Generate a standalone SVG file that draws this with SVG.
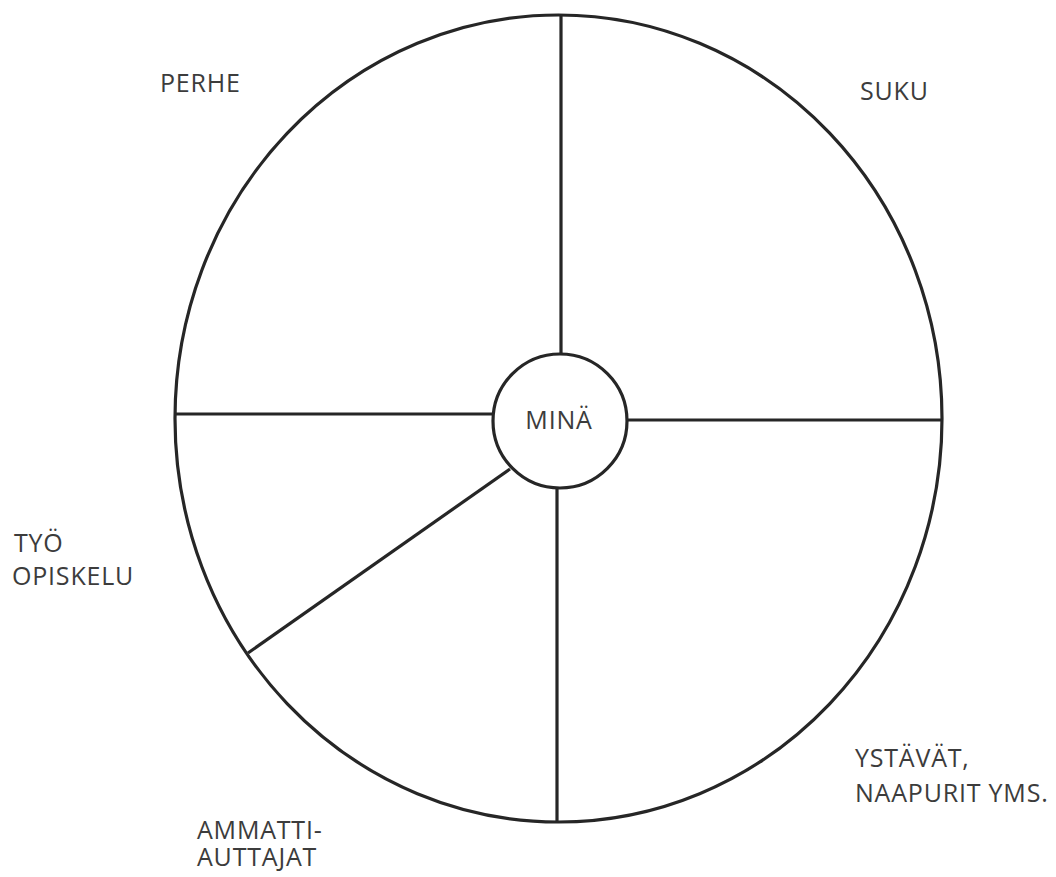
<svg xmlns="http://www.w3.org/2000/svg" width="1056" height="877" viewBox="0 0 1056 877">
<style>
.s{fill:none;stroke:#262626;stroke-width:3.2}
.t{font-family:"Open Sans","Liberation Sans",sans-serif;font-size:25px;letter-spacing:0.8px;fill:#3c3c3c}
</style>
<rect width="1056" height="877" fill="#fff"/>
<g id="connectors">
<line class="s" x1="561" y1="15" x2="561" y2="355"/>
<line class="s" x1="175" y1="414" x2="493" y2="414"/>
<line class="s" x1="627" y1="420" x2="942" y2="420"/>
<line class="s" x1="557" y1="488" x2="557" y2="822"/>
<line class="s" x1="510" y1="469" x2="248" y2="653"/>
</g>
<g id="outer"><ellipse class="s" cx="558.5" cy="418.5" rx="383.5" ry="403.5"/></g>
<g id="mina">
<circle class="s" cx="560" cy="421" r="67" fill="#fff"/>
<text class="t" x="559" y="429" text-anchor="middle">MINÄ</text>
</g>
<g id="perhe"><text class="t" x="160" y="92">PERHE</text></g>
<g id="suku"><text class="t" x="860" y="100">SUKU</text></g>
<g id="tyo"><text class="t" x="14" y="552">TYÖ</text><text class="t" x="12" y="585">OPISKELU</text></g>
<g id="ystavat"><text class="t" x="855" y="767">YSTÄVÄT,</text><text class="t" x="855" y="802">NAAPURIT YMS.</text></g>
<g id="ammatti"><text class="t" x="197" y="839">AMMATTI-</text><text class="t" x="197" y="866">AUTTAJAT</text></g>
</svg>
